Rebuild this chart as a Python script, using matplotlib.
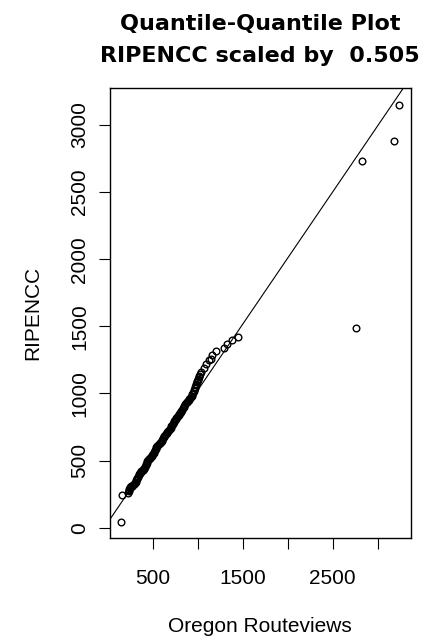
import matplotlib
matplotlib.use("Agg")
import matplotlib.pyplot as plt

plt.rcParams["font.family"] = ["Liberation Sans", "DejaVu Sans"]

# quantiles (sorted) of the two data sets
oregon = [147, 160,
          225, 231, 236, 240, 246, 251, 255, 262, 268, 272, 279, 285, 290, 297, 303, 308,
          316, 322, 327, 334, 341, 346, 353, 359, 366, 372, 378, 386, 392, 398, 405, 411,
          418, 425, 431, 438, 446, 452, 459, 466, 472, 480, 487, 494, 500, 508, 515, 522,
          530, 537, 544, 551, 559, 566, 574, 581, 589, 597,
          604, 612, 620, 628, 636, 645, 653, 661, 670, 679, 688, 697, 706, 714, 722, 730,
          738, 746, 754, 762, 770, 778, 786, 794, 802, 810, 818, 826, 834, 842, 850, 858,
          866, 874, 882, 890, 898, 906, 914, 922, 930,
          940, 946, 952, 958, 964, 970, 976, 982, 988, 994, 1000, 1006, 1012, 1018, 1024, 1030,
          1067, 1086, 1123, 1150, 1161, 1198, 1291, 1329, 1385, 1441,
          2755, 2830, 3177, 3240]
ripencc = [45, 246,
           262, 271, 280, 287, 295, 301, 305, 310, 313, 314, 319, 322, 324, 330, 335, 341,
           352, 361, 369, 380, 390, 397, 405, 411, 416, 419, 423, 428, 432, 438, 446, 454,
           465, 475, 484, 494, 503, 508, 514, 518, 521, 527, 532, 538, 546, 556, 567, 577,
           588, 598, 606, 612, 619, 623, 628, 633, 639, 647,
           655, 665, 675, 684, 693, 701, 707, 713, 720, 727, 735, 744, 755, 765, 775, 785,
           795, 804, 812, 819, 826, 832, 838, 844, 851, 859, 868, 878, 889, 899, 909, 918,
           926, 933, 939, 945, 951, 958, 965, 973, 982,
           998, 1006, 1019, 1027, 1040, 1048, 1061, 1069, 1082, 1090, 1103, 1111, 1124, 1132,
           1145, 1160,
           1186, 1216, 1248, 1260, 1290, 1315, 1339, 1372, 1397, 1421,
           1491, 2734, 2883, 3149]

line_intercept = 40
line_slope = 0.985

xticks = [500, 1000, 1500, 2000, 2500, 3000]
xtick_labels = ["500", "", "1500", "", "2500", ""]
yticks = [0, 500, 1000, 1500, 2000, 2500, 3000]

fig = plt.figure(figsize=(4.26, 6.36), dpi=100)
ax = fig.add_axes([110 / 426, 1 - 538.3 / 636, 300.5 / 426, 450 / 636])

ax.plot(oregon, ripencc, "o", mfc="none", mec="black", ms=4.8, mew=1.0)
ax.axline((0, line_intercept), slope=line_slope, color="black", lw=0.8)

# R style: 4% padding around the data range
def padded(v):
    lo, hi = min(v), max(v)
    d = (hi - lo) * 0.04
    return lo - d, hi + d

ax.set_xlim(*padded(oregon))
ax.set_ylim(*padded(ripencc))

ax.set_xticks(xticks)
ax.set_xticklabels(xtick_labels)
ax.set_yticks(yticks)
ax.tick_params(direction="out", length=8, width=0.8, labelsize=15, color="black")
ax.tick_params(axis="x", pad=14)
ax.tick_params(axis="y", pad=7, labelrotation=90)
for lab in ax.get_yticklabels():
    lab.set_verticalalignment("center")

for s in ax.spines.values():
    s.set_linewidth(1.0)

ax.set_xlabel("Oregon Routeviews", fontsize=15)
ax.xaxis.set_label_coords(0.5, -0.174)
ax.set_ylabel("RIPENCC", fontsize=15)
ax.yaxis.set_label_coords(-0.225, 0.5)

cx = (110 + 410.5) / 2 / 426
fig.text(cx, 1 - 30 / 636, "Quantile-Quantile Plot", ha="center", va="baseline",
         fontsize=16, fontweight="bold", family="DejaVu Sans")
fig.text(cx, 1 - 61.7 / 636, "RIPENCC scaled by  0.505", ha="center", va="baseline",
         fontsize=16, fontweight="bold", family="DejaVu Sans")

fig.savefig("out.png", dpi=100)
